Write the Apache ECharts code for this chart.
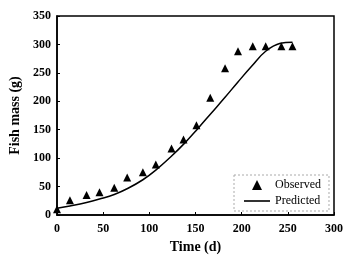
<!DOCTYPE html>
<html>
<head>
<meta charset="utf-8">
<script src="https://cdn.jsdelivr.net/npm/echarts@6/dist/echarts.min.js"></script>
<style>
  html, body { margin: 0; padding: 0; background: #fff; }
  #chart { width: 350px; height: 266px; }
</style>
</head>
<body>
<div id="chart"></div>
<script>
// observed fish mass (g) by day
const obsDays = [0, 14, 32, 46, 62, 76, 93, 107, 124, 137, 151, 166, 182, 196, 212, 226, 243, 255]
const obsMass = [10, 26, 35, 40, 48, 66, 75, 89, 117, 133, 158, 206, 258, 288, 297, 297, 297, 297]

// predicted curve
const predDays = [0, 14, 32, 46, 62, 77, 93, 107, 123, 138, 152, 167, 182, 196, 211, 226, 242, 255]
const predMass = [12, 16, 22, 28, 36, 47, 62, 79, 102, 126, 151, 179, 207, 234, 262, 288, 302, 304]

const xTicks = [0, 50, 100, 150, 200, 250, 300]
const yTicks = [0, 50, 100, 150, 200, 250, 300, 350]

const font = '"Liberation Serif", "Times New Roman", serif'

const chart = echarts.init(document.getElementById('chart'))

const axisCommon = {
  axisLine: { show: true, onZero: false, lineStyle: { color: '#000', width: 1.5 } },
  axisTick: { show: true, inside: true, length: 3, lineStyle: { color: '#000' } },
  splitLine: { show: false },
  axisLabel: { color: '#000', fontFamily: font, fontWeight: 'bold', fontSize: 12 },
  nameTextStyle: { color: '#000', fontFamily: font, fontWeight: 'bold', fontSize: 14 }
}

chart.setOption({
  animation: false,
  backgroundColor: '#fff',
  grid: {
    left: 57, right: 16, top: 16, bottom: 51,
    show: true, borderColor: '#000', borderWidth: 1.5
  },
  legend: {
    left: 234, top: 175,
    orient: 'vertical',
    padding: [4, 8, 4, 10],
    itemGap: 4,
    itemWidth: 26,
    itemHeight: 10,
    symbolKeepAspect: true,
    borderColor: '#aaa',
    borderWidth: 1,
    borderType: [2, 2],
    backgroundColor: '#fff',
    textStyle: { color: '#000', fontFamily: font, fontSize: 12 },
    data: [
      { name: 'Observed', icon: 'path://M0,10 L5,0 L10,10 Z', itemStyle: { color: '#000' } },
      { name: 'Predicted', icon: 'path://M0,0 H26 V1.6 H0 Z', itemStyle: { color: '#000' } }
    ]
  },
  xAxis: Object.assign({}, axisCommon, {
    type: 'value',
    min: 0, max: 300, interval: 50,
    name: 'Time (d)',
    nameLocation: 'middle',
    nameGap: 25,
    axisLabel: Object.assign({}, axisCommon.axisLabel, {
      margin: 8,
      customValues: xTicks
    })
  }),
  yAxis: Object.assign({}, axisCommon, {
    type: 'value',
    min: 0, max: 350, interval: 50,
    name: 'Fish mass (g)',
    nameLocation: 'middle',
    nameGap: 30,
    axisLabel: Object.assign({}, axisCommon.axisLabel, {
      margin: 6,
      customValues: yTicks
    })
  }),
  series: [
    {
      name: 'Observed',
      type: 'scatter',
      symbol: 'triangle',
      symbolSize: 8,
      itemStyle: { color: '#000', opacity: 1 },
      data: obsDays.map((d, i) => [d, obsMass[i]]),
      z: 3
    },
    {
      name: 'Predicted',
      type: 'line',
      smooth: 0.4,
      showSymbol: false,
      lineStyle: { color: '#000', width: 1.5 },
      itemStyle: { color: '#000' },
      data: predDays.map((d, i) => [d, predMass[i]]),
      z: 2
    }
  ]
})
</script>
</body>
</html>
